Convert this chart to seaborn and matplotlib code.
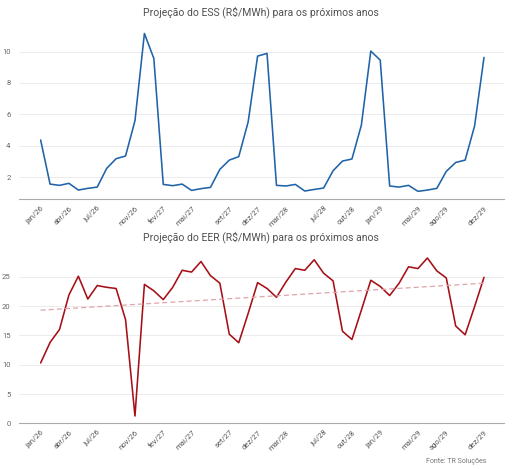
import numpy as np
import pandas as pd
import matplotlib
matplotlib.use("Agg")
import matplotlib.pyplot as plt
import seaborn as sns

# monthly values jan/26 .. dez/29
meses = ['jan', 'fev', 'mar', 'abr', 'mai', 'jun', 'jul', 'ago', 'set', 'out', 'nov', 'dez']
anos = ['26', '27', '28', '29']
labels = [m + '/' + a for a in anos for m in meses]

ess = [4.36, 1.55, 1.47, 1.60, 1.17, 1.28, 1.36, 2.55, 3.17, 3.34, 5.59, 11.15,
       9.56, 1.53, 1.45, 1.55, 1.15, 1.26, 1.34, 2.49, 3.08, 3.30, 5.52, 9.71,
       9.88, 1.47, 1.43, 1.53, 1.11, 1.21, 1.30, 2.40, 3.02, 3.15, 5.31, 10.03,
       9.45, 1.43, 1.36, 1.47, 1.09, 1.17, 1.28, 2.36, 2.93, 3.08, 5.25, 9.62]

eer = [10.3, 13.8, 16.0, 21.9, 25.1, 21.2, 23.5, 23.2, 23.0, 17.7, 1.25, 23.7,
       22.6, 21.1, 23.2, 26.1, 25.8, 27.6, 25.2, 23.9, 15.2, 13.75, 18.75, 24.0,
       23.0, 21.5, 24.1, 26.4, 26.1, 27.9, 25.6, 24.3, 15.7, 14.3, 19.3, 24.4,
       23.35, 21.8, 23.9, 26.7, 26.4, 28.2, 26.0, 24.8, 16.6, 15.1, 19.9, 24.9]

# dashed trend line in the EER panel (start, end)
eer_trend = [19.3, 23.9]

tick_idx = [0, 3, 6, 10, 13, 16, 20, 23, 26, 30, 33, 36, 40, 43, 47]

df = pd.DataFrame({'i': np.arange(len(labels)), 'mes': labels, 'ess': ess, 'eer': eer})

sns.set_style("white")
plt.rcParams['font.family'] = ['Roboto', 'DejaVu Sans']

fig = plt.figure(figsize=(5.12, 4.69), dpi=100)
ax1 = fig.add_axes([0.037, 0.575, 0.947, 0.372])
ax2 = fig.add_axes([0.037, 0.0974, 0.947, 0.370])

sns.lineplot(data=df, x='i', y='ess', ax=ax1, color='#1f63a8', linewidth=1.15)
sns.lineplot(data=df, x='i', y='eer', ax=ax2, color='#a50f15', linewidth=1.15)
ax2.plot([0, len(labels) - 1], eer_trend, color='#dfa3aa', linewidth=0.9, linestyle=(0, (4, 2.5)))

ax1.set_ylim(0.58, 11.7)
ax1.set_yticks([2, 4, 6, 8, 10])
ax2.set_ylim(0, 29.6)
ax2.set_yticks([0, 5, 10, 15, 20, 25])

ax1.set_title('Projeção do ESS (R$/MWh) para os próximos anos', fontsize=7.5,
              color='#505050', pad=7)
ax2.set_title('Projeção do EER (R$/MWh) para os próximos anos', fontsize=7.5,
              color='#505050', pad=7)

for ax in (ax1, ax2):
    ax.set_xlim(-2.3, 49.1)
    ax.set_xticks(tick_idx)
    ax.set_xticklabels([labels[k] for k in tick_idx], rotation=45, ha='right',
                       rotation_mode='anchor', fontsize=5.5, color='#555555')
    ax.set_xlabel('')
    ax.set_ylabel('')
    ax.grid(axis='y', color='#ebebeb', linewidth=0.7)
    ax.set_axisbelow(True)
    for s in ['top', 'right', 'left']:
        ax.spines[s].set_visible(False)
    ax.spines['bottom'].set_color('#aaaaaa')
    ax.spines['bottom'].set_linewidth(0.8)
    ax.tick_params(axis='x', length=3, width=0.6, color='#aaaaaa', pad=1)
    ax.tick_params(axis='y', length=0, labelsize=5.5, labelcolor='#666666', pad=6)

fig.text(0.949, 0.013, 'Fonte: TR Soluções', fontsize=5, color='#777777', ha='right')

fig.savefig('out.png', dpi=100)
